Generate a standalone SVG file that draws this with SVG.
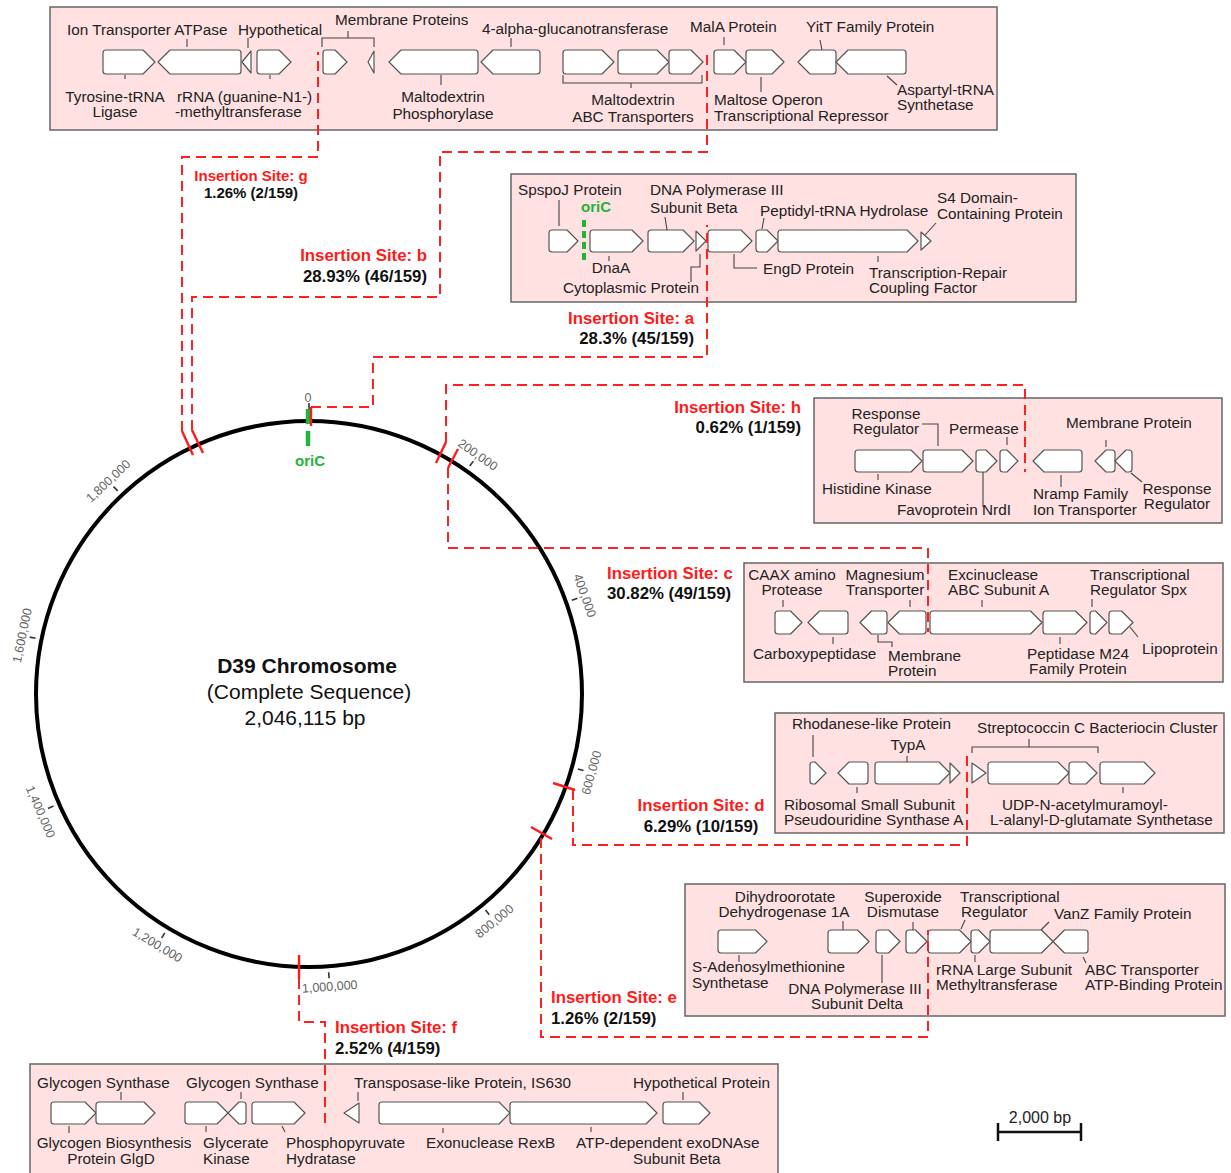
<svg xmlns="http://www.w3.org/2000/svg" width="1231" height="1173" viewBox="0 0 1231 1173">
<style>
.bg{fill:#ffffff}
.box{fill:#ffe1e1;stroke:#666;stroke-width:1.5}
.gene{fill:#fff;stroke:#555;stroke-width:1.2;stroke-linejoin:round}
.lead{fill:none;stroke:#444;stroke-width:1.1}
.lbl{font-family:"Liberation Sans",Arial,sans-serif;font-size:15.3px;fill:#222}
.mid{text-anchor:middle}
.site{font-family:"Liberation Sans",Arial,sans-serif;font-size:16.8px;font-weight:bold;fill:#ff1a1a}
.pct{font-family:"Liberation Sans",Arial,sans-serif;font-size:16.8px;font-weight:bold;fill:#111}
.dash{fill:none;stroke:#ff2020;stroke-width:2;stroke-dasharray:10 6}
.mark{stroke:#ff1a1a;stroke-width:2.4;fill:none}
.tick{stroke:#333;stroke-width:1.6}
.tlab{font-family:"Liberation Sans",Arial,sans-serif;font-size:12.5px;fill:#666;text-anchor:middle}
.title{font-family:"Liberation Sans",Arial,sans-serif;font-size:21px;fill:#111;text-anchor:middle}
.ori{font-family:"Liberation Sans",Arial,sans-serif;font-size:15px;font-weight:bold;fill:#22b33a;text-anchor:middle}
</style>
<rect class="bg" x="0" y="0" width="1231" height="1173"/>

<!-- Top box -->
<g id="box-top">
<rect class="box" x="50" y="7" width="947" height="123"/>
<path class="gene" d="M106,50 L143,50 L155,62 L143,74 L106,74 Q103,74 103,71 L103,53 Q103,50 106,50Z"/>
<path class="gene" d="M238,50 L170,50 L158,62 L170,74 L238,74 Q241,74 241,71 L241,53 Q241,50 238,50Z"/>
<path class="gene" d="M242,62 L251,51 L251,73Z"/>
<path class="gene" d="M260,50 L279,50 L291,62 L279,74 L260,74 Q257,74 257,71 L257,53 Q257,50 260,50Z"/>
<path class="gene" d="M326,50 L335,50 L347,62 L335,74 L326,74 Q323,74 323,71 L323,53 Q323,50 326,50Z"/>
<path class="gene" d="M374,51 L368,62 L374,73Z"/>
<path class="gene" d="M475,50 L401,50 L389,62 L401,74 L475,74 Q478,74 478,71 L478,53 Q478,50 475,50Z"/>
<path class="gene" d="M537,50 L493,50 L481,62 L493,74 L537,74 Q540,74 540,71 L540,53 Q540,50 537,50Z"/>
<path class="gene" d="M566,50 L602,50 L614,62 L602,74 L566,74 Q563,74 563,71 L563,53 Q563,50 566,50Z"/>
<path class="gene" d="M621,50 L657,50 L669,62 L657,74 L621,74 Q618,74 618,71 L618,53 Q618,50 621,50Z"/>
<path class="gene" d="M672,50 L691,50 L703,62 L691,74 L672,74 Q669,74 669,71 L669,53 Q669,50 672,50Z"/>
<path class="gene" d="M717,50 L734,50 L746,62 L734,74 L717,74 Q714,74 714,71 L714,53 Q714,50 717,50Z"/>
<path class="gene" d="M749,50 L772,50 L784,62 L772,74 L749,74 Q746,74 746,71 L746,53 Q746,50 749,50Z"/>
<path class="gene" d="M833,50 L810,50 L798,62 L810,74 L833,74 Q836,74 836,71 L836,53 Q836,50 833,50Z"/>
<path class="gene" d="M903,50 L848,50 L836,62 L848,74 L903,74 Q906,74 906,71 L906,53 Q906,50 903,50Z"/>
<path class="lead" d="M187,39 V47 M248,38 V48 M322,47 V38 H374 V47 M348,38 V31 M511,38 V47 M724,37 V45 M820,40 L822,50 M125,75 V79 M270,75 V79 M441,75 V85 M563,75 V83 H702 V75 M631,83 V88 M761,77 V92 M887,76 L897,85"/>
<text class="lbl" x="67" y="35">Ion Transporter ATPase</text>
<text class="lbl" x="238" y="35">Hypothetical</text>
<text class="lbl" x="335" y="25">Membrane Proteins</text>
<text class="lbl" x="482" y="34">4-alpha-glucanotransferase</text>
<text class="lbl" x="690" y="32">MalA Protein</text>
<text class="lbl" x="806" y="32">YitT Family Protein</text>
<text class="lbl mid" x="115" y="102">Tyrosine-tRNA</text>
<text class="lbl mid" x="115" y="117">Ligase</text>
<text class="lbl" x="177" y="102">rRNA (guanine-N1-)</text>
<text class="lbl" x="175" y="117">-methyltransferase</text>
<text class="lbl mid" x="443" y="102">Maltodextrin</text>
<text class="lbl mid" x="443" y="119">Phosphorylase</text>
<text class="lbl mid" x="633" y="105">Maltodextrin</text>
<text class="lbl mid" x="633" y="122">ABC Transporters</text>
<text class="lbl" x="714" y="105">Maltose Operon</text>
<text class="lbl" x="714" y="121">Transcriptional Repressor</text>
<text class="lbl" x="897" y="95">Aspartyl-tRNA</text>
<text class="lbl" x="897" y="110">Synthetase</text>
</g>

<!-- Box a -->
<g id="box-a">
<rect class="box" x="511" y="174" width="565" height="128"/>
<path class="gene" d="M552,230 L567,230 L578,241 L567,252 L552,252 Q549,252 549,249 L549,233 Q549,230 552,230Z"/>
<path class="gene" d="M593,230 L632,230 L643,241 L632,252 L593,252 Q590,252 590,249 L590,233 Q590,230 593,230Z"/>
<path class="gene" d="M651,230 L683,230 L694,241 L683,252 L651,252 Q648,252 648,249 L648,233 Q648,230 651,230Z"/>
<path class="gene" d="M696,231 L706,241 L696,251Z"/>
<path class="gene" d="M711,230 L741,230 L752,241 L741,252 L711,252 Q708,252 708,249 L708,233 Q708,230 711,230Z"/>
<path class="gene" d="M759,230 L767,230 L778,241 L767,252 L759,252 Q756,252 756,249 L756,233 Q756,230 759,230Z"/>
<path class="gene" d="M781,230 L907,230 L918,241 L907,252 L781,252 Q778,252 778,249 L778,233 Q778,230 781,230Z"/>
<path class="gene" d="M921,232 L931,241 L921,250Z"/>
<line x1="584" y1="220" x2="584" y2="261" stroke="#22b33a" stroke-width="4" stroke-dasharray="7 4"/>
<path class="lead" d="M559,200 V226 M609,256 V261 M700,254 V267 H691 V282 M665,217 L667,230 M734,254 V268 H757 M762,229 L764,218 M878,256 V262 M925,235 L936,223"/>
<text class="lbl" x="518" y="195">SpspoJ Protein</text>
<text class="ori" x="596" y="212">oriC</text>
<text class="lbl" x="650" y="195">DNA Polymerase III</text>
<text class="lbl" x="650" y="213">Subunit Beta</text>
<text class="lbl" x="760" y="216">Peptidyl-tRNA Hydrolase</text>
<text class="lbl" x="937" y="203">S4 Domain-</text>
<text class="lbl" x="937" y="219">Containing Protein</text>
<text class="lbl mid" x="611" y="273">DnaA</text>
<text class="lbl" x="563" y="293">Cytoplasmic Protein</text>
<text class="lbl" x="763" y="274">EngD Protein</text>
<text class="lbl" x="869" y="278">Transcription-Repair</text>
<text class="lbl" x="869" y="293">Coupling Factor</text>
</g>

<!-- Box h -->
<g id="box-h">
<rect class="box" x="814" y="398" width="408" height="125"/>
<path class="gene" d="M858,450 L911,450 L922,461 L911,472 L858,472 Q855,472 855,469 L855,453 Q855,450 858,450Z"/>
<path class="gene" d="M926,450 L962,450 L973,461 L962,472 L926,472 Q923,472 923,469 L923,453 Q923,450 926,450Z"/>
<path class="gene" d="M979,450 L986,450 L997,461 L986,472 L979,472 Q976,472 976,469 L976,453 Q976,450 979,450Z"/>
<path class="gene" d="M1003,450 L1007,450 L1018,461 L1007,472 L1003,472 Q1000,472 1000,469 L1000,453 Q1000,450 1003,450Z"/>
<path class="gene" d="M1079,450 L1044,450 L1033,461 L1044,472 L1079,472 Q1082,472 1082,469 L1082,453 Q1082,450 1079,450Z"/>
<path class="gene" d="M1112,450 L1106,450 L1095,461 L1106,472 L1112,472 Q1115,472 1115,469 L1115,453 Q1115,450 1112,450Z"/>
<path class="gene" d="M1129,450 L1126,450 L1115,461 L1126,472 L1129,472 Q1132,472 1132,469 L1132,453 Q1132,450 1129,450Z"/>
<path class="lead" d="M922,424 H938 V446 M1007,437 V445 M1106,440 V447 M878,474 V480 M983,472 V507 M1061,475 V487 M1131,473 L1142,482"/>
<text class="lbl mid" x="886" y="419">Response</text>
<text class="lbl mid" x="886" y="434">Regulator</text>
<text class="lbl" x="949" y="434">Permease</text>
<text class="lbl" x="1066" y="428">Membrane Protein</text>
<text class="lbl" x="822" y="494">Histidine Kinase</text>
<text class="lbl" x="897" y="515">Favoprotein NrdI</text>
<text class="lbl" x="1033" y="499">Nramp Family</text>
<text class="lbl" x="1033" y="515">Ion Transporter</text>
<text class="lbl mid" x="1177" y="494">Response</text>
<text class="lbl mid" x="1177" y="509">Regulator</text>
</g>

<!-- Box c -->
<g id="box-c">
<rect class="box" x="744" y="563" width="479" height="119"/>
<path class="gene" d="M778,611 L790.5,611 L802,622.5 L790.5,634 L778,634 Q775,634 775,631 L775,614 Q775,611 778,611Z"/>
<path class="gene" d="M845,611 L819.5,611 L808,622.5 L819.5,634 L845,634 Q848,634 848,631 L848,614 Q848,611 845,611Z"/>
<path class="gene" d="M884,611 L871.5,611 L860,622.5 L871.5,634 L884,634 Q887,634 887,631 L887,614 Q887,611 884,611Z"/>
<path class="gene" d="M923,611 L899.5,611 L888,622.5 L899.5,634 L923,634 Q926,634 926,631 L926,614 Q926,611 923,611Z"/>
<path class="gene" d="M933,611 L1030.5,611 L1042,622.5 L1030.5,634 L933,634 Q930,634 930,631 L930,614 Q930,611 933,611Z"/>
<path class="gene" d="M1046,611 L1075.5,611 L1087,622.5 L1075.5,634 L1046,634 Q1043,634 1043,631 L1043,614 Q1043,611 1046,611Z"/>
<path class="gene" d="M1093,611 L1095.5,611 L1107,622.5 L1095.5,634 L1093,634 Q1090,634 1090,631 L1090,614 Q1090,611 1093,611Z"/>
<path class="gene" d="M1112,611 L1121.5,611 L1133,622.5 L1121.5,634 L1112,634 Q1109,634 1109,631 L1109,614 Q1109,611 1112,611Z"/>
<path class="lead" d="M783,600 V607 M910,600 V607 M982,600 V607 M1092,599 V607 M833,637 V644 M878,635 V642 H892 V647 M1060,637 V644 M1130,627 L1138,637"/>
<text class="lbl mid" x="792" y="580">CAAX amino</text>
<text class="lbl mid" x="792" y="595">Protease</text>
<text class="lbl mid" x="885" y="580">Magnesium</text>
<text class="lbl mid" x="885" y="595">Transporter</text>
<text class="lbl" x="948" y="580">Excinuclease</text>
<text class="lbl" x="948" y="595">ABC Subunit A</text>
<text class="lbl" x="1090" y="580">Transcriptional</text>
<text class="lbl" x="1090" y="595">Regulator Spx</text>
<text class="lbl" x="753" y="659">Carboxypeptidase</text>
<text class="lbl" x="888" y="661">Membrane</text>
<text class="lbl" x="888" y="676">Protein</text>
<text class="lbl mid" x="1078" y="659">Peptidase M24</text>
<text class="lbl mid" x="1078" y="674">Family Protein</text>
<text class="lbl" x="1142" y="654">Lipoprotein</text>
</g>

<!-- Box d -->
<g id="box-d">
<rect class="box" x="775" y="713" width="449" height="120"/>
<path class="gene" d="M813,762 L815,762 L826,773 L815,784 L813,784 Q810,784 810,781 L810,765 Q810,762 813,762Z"/>
<path class="gene" d="M865,762 L849,762 L838,773 L849,784 L865,784 Q868,784 868,781 L868,765 Q868,762 865,762Z"/>
<path class="gene" d="M878,762 L939,762 L950,773 L939,784 L878,784 Q875,784 875,781 L875,765 Q875,762 878,762Z"/>
<path class="gene" d="M950,763 L960,773 L950,783Z"/>
<path class="gene" d="M972,763 L986,773 L972,783Z"/>
<path class="gene" d="M991,762 L1058,762 L1069,773 L1058,784 L991,784 Q988,784 988,781 L988,765 Q988,762 991,762Z"/>
<path class="gene" d="M1072,762 L1086,762 L1097,773 L1086,784 L1072,784 Q1069,784 1069,781 L1069,765 Q1069,762 1072,762Z"/>
<path class="gene" d="M1103,762 L1144,762 L1155,773 L1144,784 L1103,784 Q1100,784 1100,781 L1100,765 Q1100,762 1103,762Z"/>
<path class="lead" d="M813,735 V757 M907,756 V762 M972,753 V747 H1098 V753 M1029,747 V739 M857,787 V793 M1123,787 V793"/>
<text class="lbl" x="792" y="729">Rhodanese-like Protein</text>
<text class="lbl mid" x="908" y="750">TypA</text>
<text class="lbl" x="977" y="733">Streptococcin C Bacteriocin Cluster</text>
<text class="lbl" x="784" y="810">Ribosomal Small Subunit</text>
<text class="lbl" x="784" y="825">Pseudouridine Synthase A</text>
<text class="lbl" x="1002" y="810">UDP-N-acetylmuramoyl-</text>
<text class="lbl" x="990" y="825">L-alanyl-D-glutamate Synthetase</text>
</g>

<!-- Box e -->
<g id="box-e">
<rect class="box" x="685" y="884" width="540" height="132"/>
<path class="gene" d="M721,930 L755.5,930 L767,941.5 L755.5,953 L721,953 Q718,953 718,950 L718,933 Q718,930 721,930Z"/>
<path class="gene" d="M831,930 L857.5,930 L869,941.5 L857.5,953 L831,953 Q828,953 828,950 L828,933 Q828,930 831,930Z"/>
<path class="gene" d="M879,930 L888.5,930 L900,941.5 L888.5,953 L879,953 Q876,953 876,950 L876,933 Q876,930 879,930Z"/>
<path class="gene" d="M909,930 L915.5,930 L927,941.5 L915.5,953 L909,953 Q906,953 906,950 L906,933 Q906,930 909,930Z"/>
<path class="gene" d="M931,930 L959.5,930 L971,941.5 L959.5,953 L931,953 Q928,953 928,950 L928,933 Q928,930 931,930Z"/>
<path class="gene" d="M974,930 L978.5,930 L990,941.5 L978.5,953 L974,953 Q971,953 971,950 L971,933 Q971,930 974,930Z"/>
<path class="gene" d="M993,930 L1041.5,930 L1053,941.5 L1041.5,953 L993,953 Q990,953 990,950 L990,933 Q990,930 993,930Z"/>
<path class="gene" d="M1085,930 L1064.5,930 L1053,941.5 L1064.5,953 L1085,953 Q1088,953 1088,950 L1088,933 Q1088,930 1085,930Z"/>
<path class="lead" d="M843,921 V930 M913,922 V930 M961,929 L965,920 M1041,930 L1049,922 M739,955 V962 M882,955 V983 M975,955 V962 M1083,957 L1086,963"/>
<text class="lbl mid" x="785" y="902">Dihydroorotate</text>
<text class="lbl mid" x="784" y="917">Dehydrogenase 1A</text>
<text class="lbl mid" x="903" y="902">Superoxide</text>
<text class="lbl mid" x="903" y="917">Dismutase</text>
<text class="lbl" x="960" y="902">Transcriptional</text>
<text class="lbl" x="961" y="917">Regulator</text>
<text class="lbl" x="1054" y="919">VanZ Family Protein</text>
<text class="lbl" x="692" y="972">S-Adenosylmethionine</text>
<text class="lbl" x="692" y="988">Synthetase</text>
<text class="lbl mid" x="855" y="994">DNA Polymerase III</text>
<text class="lbl mid" x="857" y="1009">Subunit Delta</text>
<text class="lbl" x="936" y="975">rRNA Large Subunit</text>
<text class="lbl" x="936" y="990">Methyltransferase</text>
<text class="lbl" x="1085" y="975">ABC Transporter</text>
<text class="lbl" x="1085" y="990">ATP-Binding Protein</text>
</g>

<!-- Bottom box -->
<g id="box-bottom">
<rect class="box" x="30" y="1064" width="748" height="120"/>
<path class="gene" d="M54,1102 L85,1102 L96,1113 L85,1124 L54,1124 Q51,1124 51,1121 L51,1105 Q51,1102 54,1102Z"/>
<path class="gene" d="M99,1102 L144,1102 L155,1113 L144,1124 L99,1124 Q96,1124 96,1121 L96,1105 Q96,1102 99,1102Z"/>
<path class="gene" d="M188,1102 L217,1102 L228,1113 L217,1124 L188,1124 Q185,1124 185,1121 L185,1105 Q185,1102 188,1102Z"/>
<path class="gene" d="M243,1102 L239,1102 L228,1113 L239,1124 L243,1124 Q246,1124 246,1121 L246,1105 Q246,1102 243,1102Z"/>
<path class="gene" d="M255,1102 L294,1102 L305,1113 L294,1124 L255,1124 Q252,1124 252,1121 L252,1105 Q252,1102 255,1102Z"/>
<path class="gene" d="M344,1113 L359,1103 L359,1123Z"/>
<path class="gene" d="M382,1102 L499,1102 L510,1113 L499,1124 L382,1124 Q379,1124 379,1121 L379,1105 Q379,1102 382,1102Z"/>
<path class="gene" d="M513,1102 L646,1102 L657,1113 L646,1124 L513,1124 Q510,1124 510,1121 L510,1105 Q510,1102 513,1102Z"/>
<path class="gene" d="M666,1102 L699,1102 L710,1113 L699,1124 L666,1124 Q663,1124 663,1121 L663,1105 Q663,1102 666,1102Z"/>
<path class="lead" d="M121,1092 V1100 M241,1092 V1099 M358,1092 V1101 M683,1092 V1100 M69,1126 V1133 M206,1126 V1132 M282,1126 L285,1132 M443,1128 V1133 M591,1127 V1132"/>
<text class="lbl" x="37" y="1088">Glycogen Synthase</text>
<text class="lbl" x="186" y="1088">Glycogen Synthase</text>
<text class="lbl" x="354" y="1088">Transposase-like Protein, IS630</text>
<text class="lbl" x="633" y="1088">Hypothetical Protein</text>
<text class="lbl mid" x="114" y="1148">Glycogen Biosynthesis</text>
<text class="lbl mid" x="111" y="1164">Protein GlgD</text>
<text class="lbl" x="203" y="1148">Glycerate</text>
<text class="lbl" x="203" y="1164">Kinase</text>
<text class="lbl" x="286" y="1148">Phosphopyruvate</text>
<text class="lbl" x="286" y="1164">Hydratase</text>
<text class="lbl" x="426" y="1148">Exonuclease RexB</text>
<text class="lbl" x="576" y="1148">ATP-dependent exoDNAse</text>
<text class="lbl" x="633" y="1164">Subunit Beta</text>
</g>

<!-- Chromosome -->
<g id="chromosome">
<circle cx="309" cy="694" r="273" fill="none" stroke="#000" stroke-width="4"/>
<g class="tick">
<line x1="309" y1="403" x2="309" y2="409"/>
<line x1="469.8" y1="466.0" x2="473.3" y2="461.1"/>
<line x1="571.8" y1="600.3" x2="577.5" y2="598.3"/>
<line x1="577.8" y1="768.9" x2="583.5" y2="770.5"/>
<line x1="485.5" y1="910.1" x2="489.3" y2="914.8"/>
<line x1="328.7" y1="972.3" x2="329.1" y2="978.3"/>
<line x1="164.8" y1="932.9" x2="161.7" y2="938.0"/>
<line x1="53.5" y1="806.1" x2="48.0" y2="808.5"/>
<line x1="35.6" y1="638.3" x2="29.7" y2="637.1"/>
<line x1="117.7" y1="490.9" x2="113.5" y2="486.6"/>
</g>
<text class="tlab" x="308" y="402">0</text>
<text class="tlab" transform="translate(477.9,454.6) rotate(35.19)" y="4.4">200,000</text>
<text class="tlab" transform="translate(585,595.6) rotate(70.38)" y="4.4">400,000</text>
<text class="tlab" transform="translate(591.2,772.6) rotate(-74.43)" y="4.4">600,000</text>
<text class="tlab" transform="translate(494.3,921) rotate(-39.24)" y="4.4">800,000</text>
<text class="tlab" transform="translate(329.7,986.3) rotate(-4.05)" y="4.4">1,000,000</text>
<text class="tlab" transform="translate(157.5,944.8) rotate(31.13)" y="4.4">1,200,000</text>
<text class="tlab" transform="translate(40.7,811.7) rotate(66.32)" y="4.4">1,400,000</text>
<text class="tlab" transform="translate(21.9,635.5) rotate(-78.49)" y="4.4">1,600,000</text>
<text class="tlab" transform="translate(108.1,480.8) rotate(-43.3)" y="4.4">1,800,000</text>
<line x1="308" y1="409" x2="308" y2="447" stroke="#22b33a" stroke-width="4.5" stroke-dasharray="15 7"/>
<text class="ori" x="310" y="466">oriC</text>
<text class="title" x="307" y="673" font-weight="bold">D39 Chromosome</text>
<text class="title" x="309" y="699">(Complete Sequence)</text>
<text class="title" x="305" y="725">2,046,115 bp</text>
<g class="mark">
<line x1="311" y1="407" x2="311" y2="426"/>
<line x1="182" y1="431" x2="193" y2="455"/>
<line x1="192" y1="430" x2="203" y2="453"/>
<line x1="436" y1="463" x2="446" y2="442"/>
<line x1="448" y1="468" x2="458" y2="449"/>
<line x1="553" y1="783" x2="575" y2="790"/>
<line x1="531" y1="827" x2="552" y2="839"/>
<line x1="299" y1="955" x2="299" y2="979"/>
</g>
</g>

<!-- Connectors -->
<g id="connectors">
<path class="dash" d="M182,431 V157 H318 V52"/>
<path class="dash" d="M192,430 V297 H440 V152 H707 V50"/>
<path class="dash" d="M311,407 H373 V357 H707 V225"/>
<path class="dash" d="M446,442 V385 H1025 V472"/>
<path class="dash" d="M448,468 V548 H928 V632"/>
<path class="dash" d="M573,790 V845 H967 V755"/>
<path class="dash" d="M541,838 V1037 H928 V930"/>
<path class="dash" d="M299,979 V1022 H325 V1128"/>
</g>

<!-- Insertion site labels -->
<g id="site-g"><text class="site mid" x="251" y="181" style="font-size:15px">Insertion Site: g</text><text class="pct mid" x="251" y="198" style="font-size:15px">1.26% (2/159)</text></g>
<g id="site-b"><text class="site" x="427" y="261" text-anchor="end">Insertion Site: b</text><text class="pct" x="427" y="282" text-anchor="end">28.93% (46/159)</text></g>
<g id="site-a"><text class="site" x="694" y="324" text-anchor="end">Insertion Site: a</text><text class="pct" x="694" y="344" text-anchor="end">28.3% (45/159)</text></g>
<g id="site-h"><text class="site" x="801" y="413" text-anchor="end">Insertion Site: h</text><text class="pct" x="801" y="433" text-anchor="end">0.62% (1/159)</text></g>
<g id="site-c"><text class="site" x="607" y="579">Insertion Site: c</text><text class="pct" x="607" y="599">30.82% (49/159)</text></g>
<g id="site-d"><text class="site mid" x="701" y="811">Insertion Site: d</text><text class="pct mid" x="701" y="832">6.29% (10/159)</text></g>
<g id="site-e"><text class="site" x="551" y="1003">Insertion Site: e</text><text class="pct" x="551" y="1024">1.26% (2/159)</text></g>
<g id="site-f"><text class="site" x="335" y="1033">Insertion Site: f</text><text class="pct" x="335" y="1054">2.52% (4/159)</text></g>

<!-- Scale bar -->
<g id="scale-bar">
<text class="lbl mid" x="1040" y="1123" style="font-size:16px">2,000 bp</text>
<path d="M998,1132 H1081 M998,1123 V1141 M1081,1123 V1141" stroke="#111" stroke-width="2.5" fill="none"/>
</g>
</svg>
